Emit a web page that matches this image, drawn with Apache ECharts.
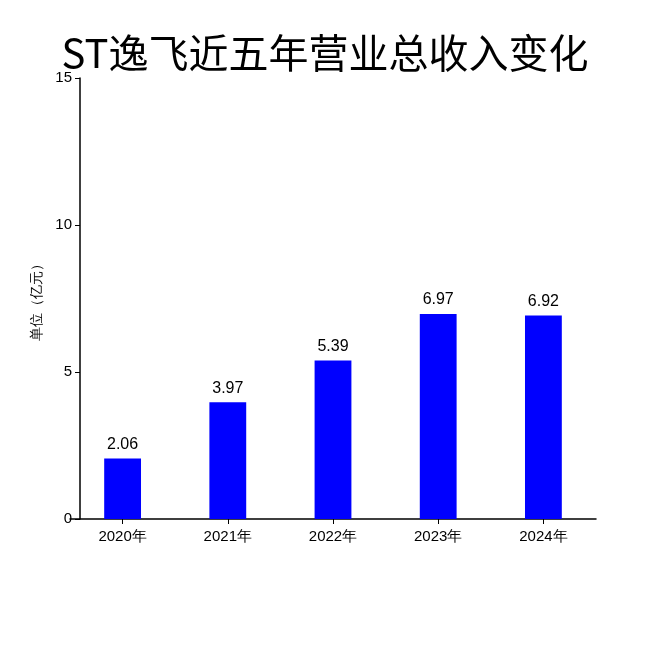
<!DOCTYPE html>
<html><head><meta charset="utf-8">
<script src="https://cdn.jsdelivr.net/npm/echarts@6/dist/echarts.min.js"></script>
<style>html,body{margin:0;padding:0;background:#fff}#c{width:650px;height:650px}</style>
</head><body><div id="c"></div>
<script>
const categories = ['2020年','2021年','2022年','2023年','2024年'];
const revenue = [2.06, 3.97, 5.39, 6.97, 6.92];
const yTicks = [0, 5, 10, 15];
const chart = echarts.init(document.getElementById('c'));
chart.setOption({
  backgroundColor: '#fff',
  title: { text: 'ST逸飞近五年营业总收入变化', left: 'center', top: 28,
    textStyle: { fontSize: 40, fontWeight: 'normal', color: '#000', fontFamily: 'Noto Sans CJK SC' } },
  grid: { left: 70, right: 54, top: 78, bottom: 131 },
  xAxis: { type: 'category', data: categories,
    axisLine: { lineStyle: { color: '#000', width: 1.5 } },
    axisTick: { show: true, alignWithLabel: true, lineStyle: { color: '#000' } },
    axisLabel: { color: '#000', fontSize: 15, margin: 10 } },
  yAxis: { type: 'value', min: 0, max: 15, interval: 5, offset: -10,
    name: '单位（亿元）', nameLocation: 'middle', nameGap: 28,
    nameTextStyle: { color: '#000', fontSize: 14 },
    axisLine: { show: true, lineStyle: { color: '#000', width: 1.5 } },
    axisTick: { show: true, lineStyle: { color: '#000' } },
    splitLine: { show: false },
    axisLabel: { color: '#000', fontSize: 15 } },
  series: [{ type: 'bar', data: revenue, barWidth: '35%',
    itemStyle: { color: '#0000FF' },
    label: { show: true, position: 'top', color: '#000', fontSize: 16, distance: 6 } }]
});
</script></body></html>
